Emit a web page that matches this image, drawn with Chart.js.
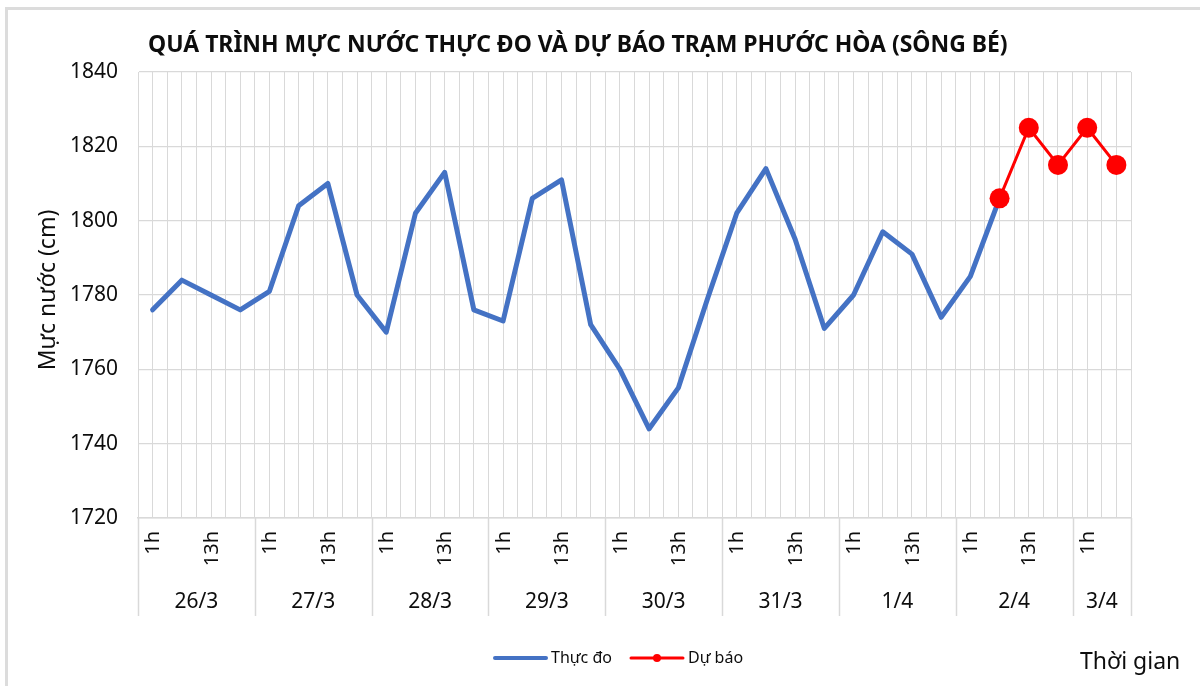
<!DOCTYPE html>
<html>
<head>
<meta charset="utf-8">
<script src="https://cdn.jsdelivr.net/npm/chart.js@4"></script>
<style>
  html, body { margin: 0; padding: 0; background: #ffffff; }
  #wrap { width: 1200px; height: 686px; position: relative; }
</style>
</head>
<body>
<div id="wrap"><canvas id="c" width="1200" height="686"></canvas></div>
<script>
// ---- data ----
const titleText = 'QUÁ TRÌNH MỰC NƯỚC THỰC ĐO VÀ DỰ BÁO TRẠM PHƯỚC HÒA (SÔNG BÉ)';
const yTitle = 'Mực nước (cm)';
const xTitle = 'Thời gian';
const days = ['26/3', '27/3', '28/3', '29/3', '30/3', '31/3', '1/4', '2/4', '3/4'];
const slotsPerDay = [4, 4, 4, 4, 4, 4, 4, 4, 2];
const hourLabels = ['1h', '', '13h', ''];
const measuredName = 'Thực đo';
const forecastName = 'Dự báo';
const measured = [
  1776, 1784, 1780, 1776,
  1781, 1804, 1810, 1780,
  1770, 1802, 1813, 1776,
  1773, 1806, 1811, 1772,
  1760, 1744, 1755, 1779,
  1802, 1814, 1795, 1771,
  1780, 1797, 1791, 1774,
  1785, 1806
];
const forecastStart = 29;
const forecast = [1806, 1825, 1815, 1825, 1815];
const yMin = 1720, yMax = 1840, yStep = 20;

// ---- build ----
const totalSlots = slotsPerDay.reduce((a, b) => a + b, 0);
const slotPos = i => 2 * i + 1; // each slot occupies two half-steps; point sits mid-slot
const measuredPts = measured.map((v, i) => ({ x: slotPos(i), y: v }));
const forecastPts = forecast.map((v, j) => ({ x: slotPos(forecastStart + j), y: v }));

const FONT = '"Noto Sans", "DejaVu Sans", sans-serif';
const TXT = '#0d0d0d';
const GRID = '#d9d9d9';

const decor = {
  id: 'decor',
  beforeDraw(chart) {
    const ctx = chart.ctx;
    ctx.save();
    ctx.strokeStyle = '#dcdcdc';
    ctx.lineWidth = 3;
    ctx.beginPath();
    ctx.moveTo(6.5, 700); ctx.lineTo(6.5, 8.5); ctx.lineTo(1210, 8.5);
    ctx.stroke();
    ctx.restore();
  },
  afterDraw(chart) {
    const ctx = chart.ctx;
    const xs = chart.scales.x;
    const ca = chart.chartArea;
    ctx.save();
    // title
    let fs = 22;
    ctx.font = `bold ${fs}px ${FONT}`;
    const w = ctx.measureText(titleText).width;
    fs = fs * 860 / w;
    ctx.font = `bold ${fs}px ${FONT}`;
    ctx.fillStyle = TXT;
    ctx.textAlign = 'left';
    ctx.textBaseline = 'middle';
    ctx.fillText(titleText, 148, 45);

    // y title
    ctx.save();
    ctx.translate(48, 290);
    ctx.rotate(-Math.PI / 2);
    ctx.font = `23px ${FONT}`;
    ctx.textAlign = 'center';
    ctx.textBaseline = 'middle';
    ctx.fillText(yTitle, 0, 0);
    ctx.restore();

    // x-axis multi-level labels
    let idx = 0;
    const sepBottom = 616;
    ctx.strokeStyle = GRID;
    ctx.lineWidth = 1.5;
    days.forEach((d, di) => {
      const startK = 2 * idx;
      const n = slotsPerDay[di];
      const endK = 2 * (idx + n);
      for (let s = 0; s < n; s++) {
        const lab = hourLabels[s];
        if (!lab) continue;
        const px = xs.getPixelForValue(slotPos(idx + s)) + 1;
        ctx.save();
        ctx.translate(px, 531);
        ctx.rotate(-Math.PI / 2);
        ctx.font = `20px ${FONT}`;
        ctx.textAlign = 'right';
        ctx.textBaseline = 'middle';
        ctx.fillStyle = TXT;
        ctx.fillText(lab, 0, 0);
        ctx.restore();
      }
      const x0 = Math.round(xs.getPixelForValue(startK)) + 0.5;
      ctx.beginPath(); ctx.moveTo(x0, ca.bottom); ctx.lineTo(x0, sepBottom); ctx.stroke();
      if (di === days.length - 1) {
        const x1 = Math.round(xs.getPixelForValue(endK)) + 0.5;
        ctx.beginPath(); ctx.moveTo(x1, ca.bottom); ctx.lineTo(x1, sepBottom); ctx.stroke();
      }
      const cx = (xs.getPixelForValue(startK) + xs.getPixelForValue(endK)) / 2;
      ctx.font = `21px ${FONT}`;
      ctx.textAlign = 'center';
      ctx.textBaseline = 'middle';
      ctx.fillStyle = TXT;
      ctx.fillText(d, cx, 602);
      idx += n;
    });

    // legend
    const ly = 658;
    ctx.lineCap = 'round';
    ctx.strokeStyle = '#4472C4';
    ctx.lineWidth = 4;
    ctx.beginPath(); ctx.moveTo(495, ly); ctx.lineTo(546, ly); ctx.stroke();
    ctx.font = `16px ${FONT}`;
    ctx.textAlign = 'left';
    ctx.textBaseline = 'middle';
    ctx.fillStyle = TXT;
    ctx.fillText(measuredName, 551, ly);
    ctx.strokeStyle = '#FF0000';
    ctx.lineWidth = 3;
    ctx.beginPath(); ctx.moveTo(631, ly); ctx.lineTo(683, ly); ctx.stroke();
    ctx.fillStyle = '#FF0000';
    ctx.beginPath(); ctx.arc(657, ly, 4, 0, Math.PI * 2); ctx.fill();
    ctx.fillStyle = TXT;
    ctx.fillText(forecastName, 688, ly);

    // x title
    ctx.font = `23px ${FONT}`;
    ctx.fillText(xTitle, 1080, 662);
    ctx.restore();
  }
};

new Chart(document.getElementById('c'), {
  type: 'line',
  data: {
    datasets: [
      {
        label: measuredName,
        data: measuredPts,
        borderColor: '#4472C4',
        backgroundColor: '#4472C4',
        borderWidth: 5,
        pointRadius: 0,
        tension: 0,
        order: 2,
        borderJoinStyle: 'round',
        borderCapStyle: 'round'
      },
      {
        label: forecastName,
        data: forecastPts,
        borderColor: '#FF0000',
        backgroundColor: '#FF0000',
        borderWidth: 3,
        pointRadius: 10,
        pointHoverRadius: 10,
        pointBackgroundColor: '#FF0000',
        pointBorderColor: '#FF0000',
        pointBorderWidth: 0,
        order: 1,
        tension: 0
      }
    ]
  },
  options: {
    responsive: false,
    animation: false,
    events: [],
    layout: { padding: { top: 72, right: 69, left: 0, bottom: 0 } },
    plugins: { legend: { display: false }, title: { display: false }, tooltip: { enabled: false } },
    scales: {
      x: {
        type: 'linear',
        min: 0,
        max: 2 * totalSlots,
        ticks: { stepSize: 1, display: false, autoSkip: false },
        grid: { color: GRID, lineWidth: 1, drawTicks: false },
        border: { color: GRID, width: 1.5 },
        afterFit(s) { s.height = 686 - 518; }
      },
      y: {
        min: yMin,
        max: yMax,
        ticks: {
          stepSize: yStep, color: TXT, font: { family: FONT, size: 21 }, padding: 20,
          callback: v => String(v)
        },
        grid: { color: GRID, lineWidth: 1.2, drawTicks: false },
        border: { color: GRID, width: 1 },
        afterFit(s) { s.width = 138; }
      }
    }
  },
  plugins: [decor]
});
</script>
</body>
</html>
